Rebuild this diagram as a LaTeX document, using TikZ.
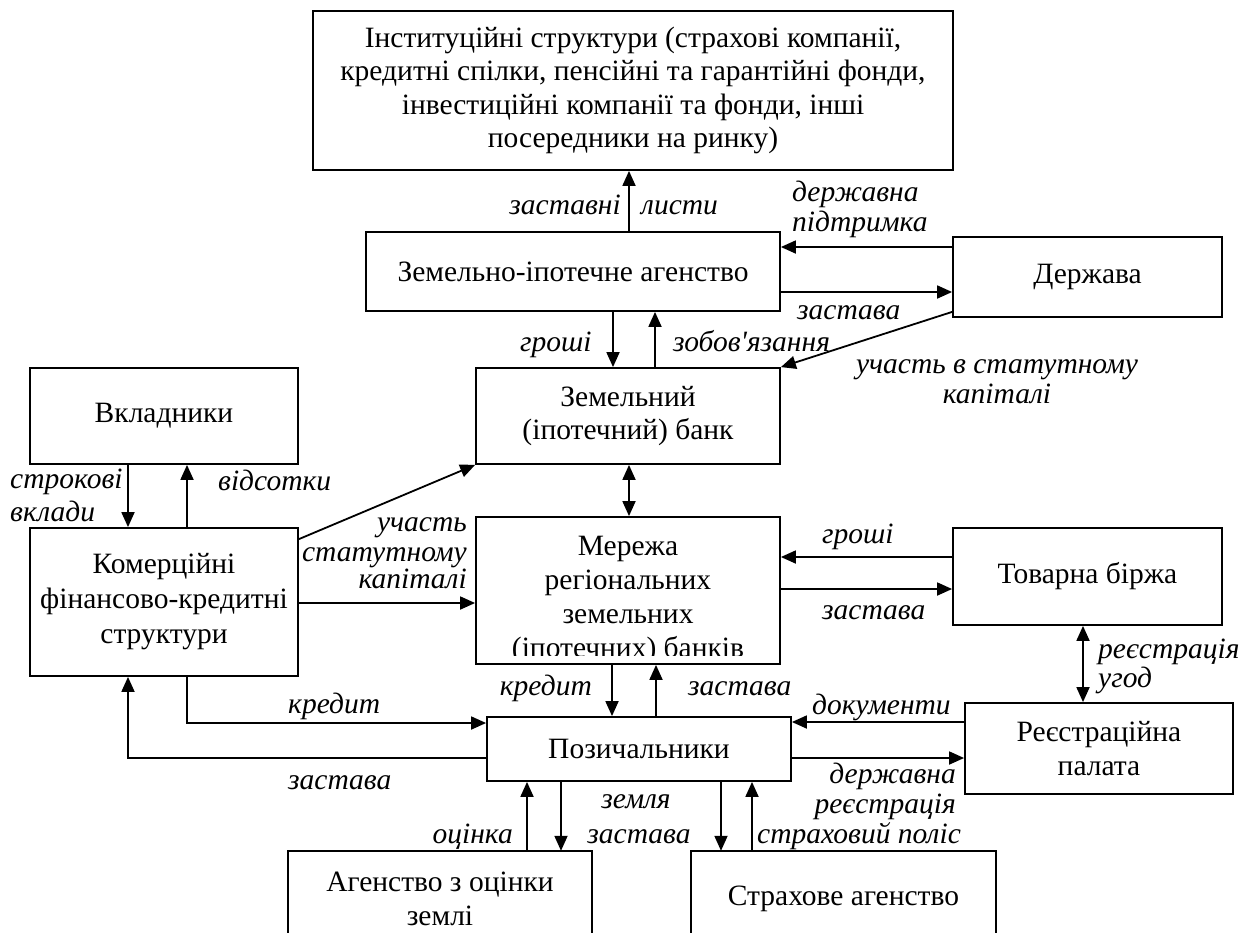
\documentclass[tikz,border=0pt]{standalone}
\usepackage{fontspec}
\setmainfont{Liberation Serif}[Ligatures=TeXOff]
\usetikzlibrary{arrows.meta}
\begin{document}
\begin{tikzpicture}[x=1pt,y=-1pt,
  font=\fontsize{29.5}{33.5}\selectfont,
  box/.style={draw,line width=1.8pt,rectangle,inner sep=0pt,align=center},
  openbox/.style={rectangle,inner sep=0pt,align=center},
  arr/.style={line width=1.8pt,-{Triangle[length=15pt,width=13pt]}},
  darr/.style={line width=1.8pt,{Triangle[length=15pt,width=13pt]}-{Triangle[length=15pt,width=13pt]}},
  lbl/.style={inner sep=0pt,font=\fontsize{29.5}{33.5}\selectfont\itshape}]
\clip (0,0) rectangle (1247,932);
\fill[white] (0,0) rectangle (1247,932);

% boxes
\node[box,minimum width=640pt,minimum height=159pt] (inst) at (633,90.5)
  {Інституційні структури (страхові компанії,\\кредитні спілки, пенсійні та гарантійні фонди,\\інвестиційні компанії та фонди, інші\\посередники на ринку)};
\node[box,minimum width=414pt,minimum height=79pt] (agency) at (573,271.5) {Земельно-іпотечне агенство};
\node[box,minimum width=269pt,minimum height=80pt] (state) at (1087.5,277) {Держава};
\node[box,minimum width=304pt,minimum height=96pt] (bank) at (628,416) {Земельний\\(іпотечний) банк};
\node[box,minimum width=268pt,minimum height=96pt] (depos) at (164,416) {Вкладники};
\node[box,font=\fontsize{29.5}{35}\selectfont,minimum width=268pt,minimum height=148pt] (comm) at (164,602) {Комерційні\\фінансово-кредитні\\структури};
\node[box,minimum width=304pt,minimum height=147pt] (net) at (628,590.5) {};
\begin{scope}
  \clip (net.north west) rectangle (780,655);
  \node[openbox,font=\fontsize{29.5}{34}\selectfont] (nettext) at (628,600) {Мережа\\регіональних\\земельних\\(іпотечних) банків};
\end{scope}
\node[box,minimum width=269pt,minimum height=97pt] (exch) at (1087.5,576.5) {Товарна біржа};
\node[box,minimum width=268pt,minimum height=91pt] (reg) at (1099,748.5) {Реєстраційна\\палата};
\node[box,minimum width=304pt,minimum height=64pt] (borr) at (639,749) {Позичальники};
\node[openbox,minimum width=304pt,minimum height=96pt] (eval) at (440,899) {Агенство з оцінки\\землі};
\node[openbox,minimum width=305pt,minimum height=96pt] (ins) at (843.5,899) {Страхове агенство};
\draw[line width=1.8pt] (eval.south west) -- (eval.north west) -- (eval.north east) -- (eval.south east);
\draw[line width=1.8pt] (ins.south west) -- (ins.north west) -- (ins.north east) -- (ins.south east);

% helper coordinates
\coordinate (xA) at (629,0);
\coordinate (xB) at (613,0);
\coordinate (xC) at (655,0);
\coordinate (xD) at (629,0);
\coordinate (xE) at (128,0);
\coordinate (xF) at (187,0);
\coordinate (xG) at (612,0);
\coordinate (xH) at (656,0);
\coordinate (xI) at (527,0);
\coordinate (xJ) at (561,0);
\coordinate (xK) at (721,0);
\coordinate (xL) at (752,0);
\coordinate (xM) at (1083,0);
\coordinate (yA) at (0,247);
\coordinate (yB) at (0,292);
\coordinate (yC) at (0,557);
\coordinate (yD) at (0,589);
\coordinate (yE) at (0,722);
\coordinate (yF) at (0,758);
\coordinate (yG) at (0,603);
\coordinate (yH) at (0,723);
\coordinate (yI) at (0,758);

% connectors
\draw[arr] (agency.north -| xA) -- (inst.south -| xA);
\draw[arr] (state.west |- yA) -- (agency.east |- yA);
\draw[arr] (agency.east |- yB) -- (state.west |- yB);
\draw[arr] (agency.south -| xB) -- (bank.north -| xB);
\draw[arr] (bank.north -| xC) -- (agency.south -| xC);
\draw[arr] ([yshift=6pt]state.south west) -- (bank.north east);
\draw[darr] (bank.south -| xD) -- (net.north -| xD);
\draw[arr] (depos.south -| xE) -- (comm.north -| xE);
\draw[arr] (comm.north -| xF) -- (depos.south -| xF);
\draw[arr] ([yshift=-12pt]comm.north east) -- (bank.south west);
\draw[arr] (comm.east |- yG) -- (net.west |- yG);
\draw[arr] (exch.west |- yC) -- (net.east |- yC);
\draw[arr] (net.east |- yD) -- (exch.west |- yD);
\draw[darr] (exch.south -| xM) -- (reg.north -| xM);
\draw[arr] (net.south -| xG) -- (borr.north -| xG);
\draw[arr] (borr.north -| xH) -- (net.south -| xH);
\draw[arr] (comm.south -| xF) -- (xF |- yH) -- (borr.west |- yH);
\draw[arr] (borr.west |- yI) -- (xE |- yI) -- (comm.south -| xE);
\draw[arr] (reg.west |- yE) -- (borr.east |- yE);
\draw[arr] (borr.east |- yF) -- (reg.west |- yF);
\draw[arr] (eval.north -| xI) -- (borr.south -| xI);
\draw[arr] (borr.south -| xJ) -- (eval.north -| xJ);
\draw[arr] (borr.south -| xK) -- (ins.north -| xK);
\draw[arr] (ins.north -| xL) -- (borr.south -| xL);

% labels
\node[lbl,anchor=base east] (l1) at (621,214) {заставні};
\node[lbl,anchor=base west] (l2) at (641,214) {листи};
\node[lbl,anchor=base west] (l3) at (792,201) {державна};
\node[lbl,anchor=base west] (l4) at (792,231) {підтримка};
\node[lbl,anchor=base west] (l5) at (797,319) {застава};
\node[lbl,anchor=base west] (l6) at (520,351) {гроші};
\node[lbl,anchor=base west] (l7) at (673,351) {зобов'язання};
\node[lbl,anchor=base] (l8) at (997,373) {участь в статутному};
\node[lbl,anchor=base] (l9) at (997,403) {капіталі};
\node[lbl,anchor=base west] (l10) at (10,488) {строкові};
\node[lbl,anchor=base west] (l11) at (10,521) {вклади};
\node[lbl,anchor=base west] (l12) at (218,490) {відсотки};
\node[lbl,anchor=base east] (l13) at (467,531) {участь};
\node[lbl,anchor=base east] (l14) at (467,561) {статутному};
\node[lbl,anchor=base east] (l15) at (467,588) {капіталі};
\node[lbl,anchor=base west] (l16) at (822,543) {гроші};
\node[lbl,anchor=base west] (l17) at (822,619) {застава};
\node[lbl,anchor=base west] (l18) at (1098,658) {реєстрація};
\node[lbl,anchor=base west] (l19) at (1098,687) {угод};
\node[lbl,anchor=base west] (l20) at (812,714) {документи};
\node[lbl,anchor=base east] (l21) at (956,783) {державна};
\node[lbl,anchor=base east] (l22) at (956,813) {реєстрація};
\node[lbl,anchor=base west] (l23) at (288,713) {кредит};
\node[lbl,anchor=base west] (l24) at (288,789) {застава};
\node[lbl,anchor=base east] (l25) at (592,695) {кредит};
\node[lbl,anchor=base west] (l26) at (688,695) {застава};
\node[lbl,anchor=base east] (l27) at (513,843) {оцінка};
\node[lbl,anchor=base] (l28) at (636,808) {земля};
\node[lbl,anchor=base] (l29) at (639,843) {застава};
\node[lbl,anchor=base west] (l30) at (757,843) {страховий поліс};
\end{tikzpicture}
\end{document}
